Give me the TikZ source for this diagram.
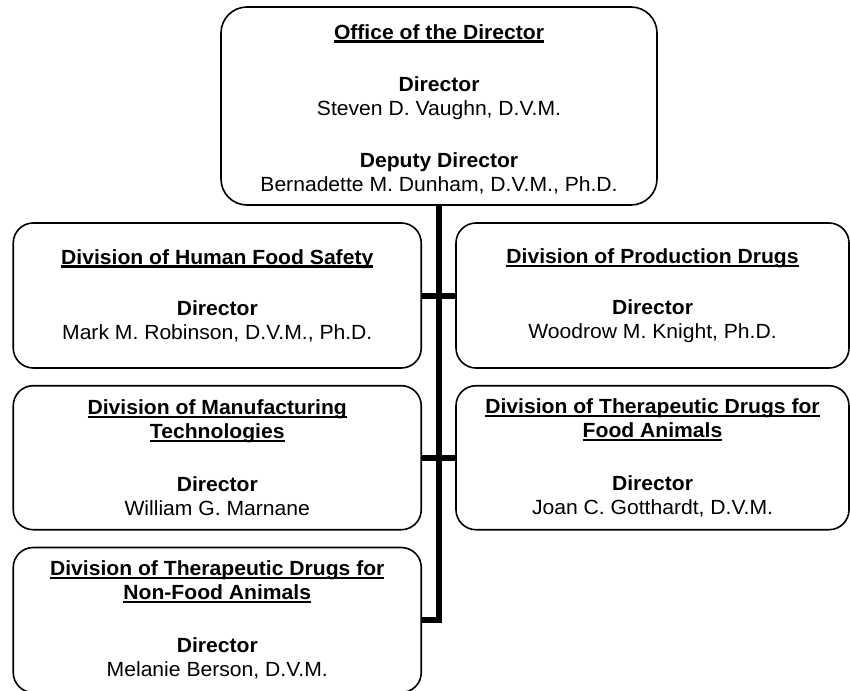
\documentclass[tikz,border=0pt]{standalone}
\usepackage{fontspec}
\setmainfont{Liberation Sans}[FakeStretch=1.03]
\newcommand{\hdl}[1]{\setbox0=\hbox{\bfseries #1}\rlap{\rule[-3.4pt]{\wd0}{2.2pt}}\box0}
\begin{document}
\begin{tikzpicture}[x=1pt,y=-1pt]
        \tikzstyle{unit}=[draw, line width=1.6pt, rounded corners=20pt, align=center, inner sep=0pt, minimum width=408pt, minimum height=145pt, font=\fontsize{20.5}{24}\selectfont]
        \tikzstyle{spine}=[line width=6pt, line join=miter]

        \useasboundingbox (0,0) rectangle (850,690);

        \node[unit, minimum width=436pt, minimum height=198pt, rounded corners=26pt] (office) at (439,106)
            {\rule{0pt}{21pt}\hdl{Office of the Director}\\[28pt]\textbf{Director}\\Steven D. Vaughn, D.V.M.\\[28pt]\textbf{Deputy Director}\\Bernadette M. Dunham, D.V.M., Ph.D.};

        \node[unit] (hfs) at (217.25,295.5)
            {\hdl{Division of Human Food Safety}\\[27pt]\textbf{Director}\\Mark M. Robinson, D.V.M., Ph.D.};
        \node[unit, minimum width=393pt] (prod) at (652.5,295.5)
            {\hdl{Division of Production Drugs}\\[27pt]\textbf{Director}\\Woodrow M. Knight, Ph.D.};

        \node[unit, minimum height=144pt] (mft) at (217.25,457.7)
            {\hdl{Division of Manufacturing}\\\hdl{Technologies}\\[29pt]\textbf{Director}\\William G. Marnane};
        \node[unit, minimum width=393pt, minimum height=144pt] (tdfa) at (652.5,457.7)
            {\hdl{Division of Therapeutic Drugs for}\\\hdl{Food Animals}\\[29pt]\textbf{Director}\\Joan C. Gotthardt, D.V.M.};

        \node[unit] (tdnfa) at (217.25,620)
            {\hdl{Division of Therapeutic Drugs for}\\\hdl{Non-Food Animals}\\[29pt]\textbf{Director}\\Melanie Berson, D.V.M.};

        \draw[spine] (office.south) -- (office.south |- tdnfa.east) -- (tdnfa.east);
        \draw[spine] (hfs.east) -- (prod.west);
        \draw[spine] (mft.east) -- (tdfa.west);
    \end{tikzpicture}
\end{document}
